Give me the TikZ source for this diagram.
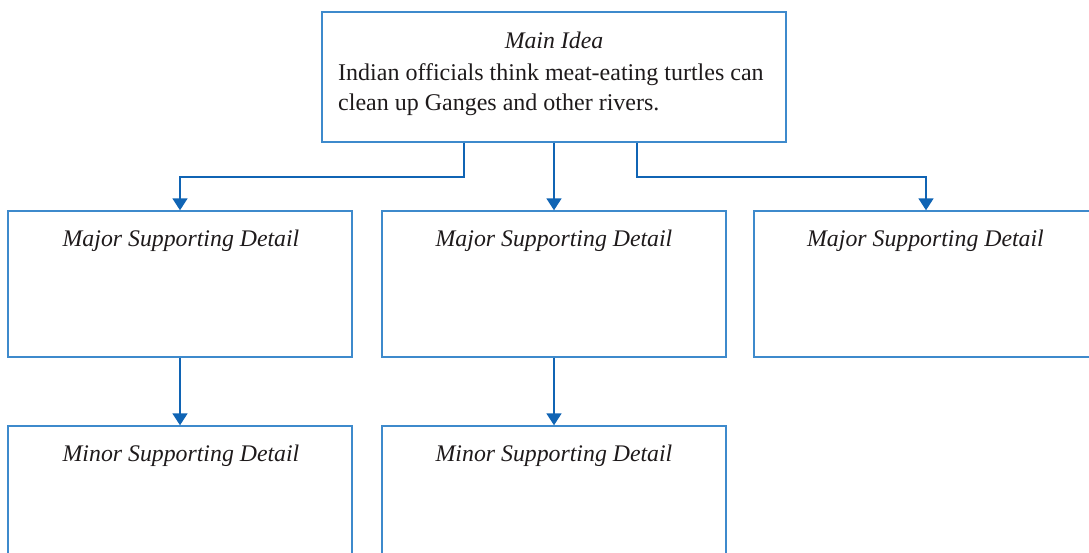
\documentclass[tikz,border=0pt]{standalone}
\usepackage{fontspec}
\setmainfont{Liberation Serif}
\usetikzlibrary{arrows.meta}
\definecolor{boxblue}{RGB}{62,138,204}
\definecolor{linkblue}{RGB}{16,100,180}
\definecolor{ink}{RGB}{30,26,27}
\begin{document}
\begin{tikzpicture}[x=1pt,y=-1pt,
  box/.style={draw=boxblue,line width=1.4pt,rectangle,inner sep=0pt,minimum width=344pt,minimum height=146pt},
  conn/.style={draw=linkblue,line width=1.7pt,-{Triangle[width=15pt,length=12pt]}},
  head/.style={font=\fontsize{23.8}{28}\selectfont\itshape,text=ink,anchor=base,inner sep=0pt},
  body/.style={font=\fontsize{24}{28}\selectfont,text=ink,anchor=base west,inner sep=0pt}]
\useasboundingbox (0,0) rectangle (1089,552);
% main idea
\node[box,minimum width=464pt,minimum height=130pt] (main) at (554,77) {};
\node[head] (mainT) at (554,48) {Main Idea};
\node[body] (mainL1) at (338,80) {Indian officials think meat-eating turtles can};
\node[body] (mainL2) at (338,110) {clean up Ganges and other rivers.};
% major details
\node[box] (majA) at (180,284) {};
\node[box] (majB) at (554,284) {};
\node[box] (majC) at (926,284) {};
\node[head] (majAT) at (181,246) {Major Supporting Detail};
\node[head] (majBT) at (554,246) {Major Supporting Detail};
\node[head] (majCT) at (925.5,246) {Major Supporting Detail};
% minor details
\node[box] (minA) at (180,499) {};
\node[box] (minB) at (554,499) {};
\node[head] (minAT) at (181,461) {Minor Supporting Detail};
\node[head] (minBT) at (554,461) {Minor Supporting Detail};
% connectors
\draw[conn] (main.south west) ++(143,0) -- ++(0,34) -| (majA.north);
\draw[conn] (main.south) -- (majB.north);
\draw[conn] (main.south west) ++(316,0) -- ++(0,34) -| (majC.north);
\draw[conn] (majA.south) -- (minA.north);
\draw[conn] (majB.south) -- (minB.north);
\end{tikzpicture}
\end{document}
